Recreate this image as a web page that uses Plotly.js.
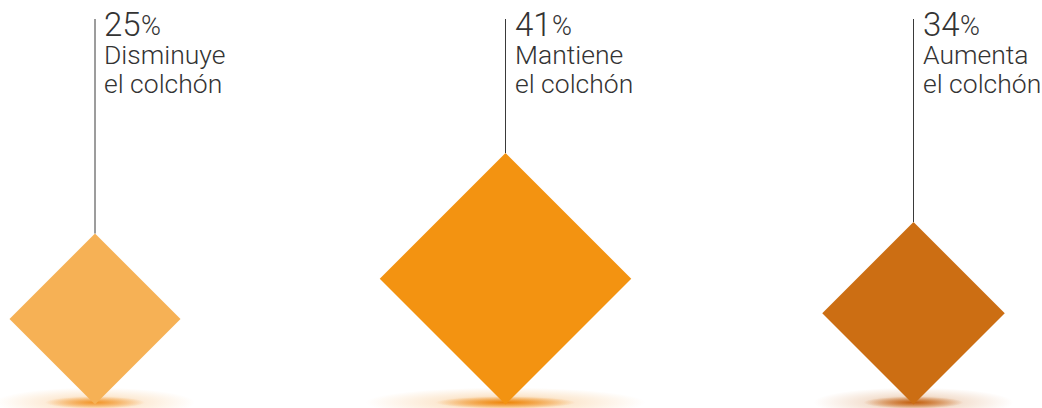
<!DOCTYPE html>
<html>
<head>
<meta charset="utf-8">
<script src="https://cdn.plot.ly/plotly-3.0.1.min.js"></script>
<style>
html,body{margin:0;padding:0;background:#fff;}
#chart{width:1042px;height:408px;}
</style>
</head>
<body>
<div id="chart"></div>
<script>
// ---- data ----
const categories = ['Disminuye', 'Mantiene', 'Aumenta'];
const subLabels = ['el colchón', 'el colchón', 'el colchón'];
const values = [25, 41, 34];

// ---- layout / style config (pixel-like axis units) ----
const centerX = [95, 505.5, 913.5];
const halfSize = [85.5, 125.75, 91.25];
const colors = ['#F6B155', '#F39311', '#CC6E13'];
const glowColors = ['#F2962A', '#EE860A', '#C4600E'];
const glowRx = [100, 140, 100];
const baseY = 404.5;
const lineTop = 19;
const textColor = '#333333';
const fontFamily = 'Roboto, "Open Sans", sans-serif';
const numSize = 33, pctSize = 27, labelSize = 26.5;

const traces = [];
const annotations = [];
const images = [];

for (let i = 0; i < values.length; i++) {
  const cx = centerX[i], h = halfSize[i];
  // diamond
  traces.push({
    type: 'scatter', mode: 'lines', fill: 'toself',
    x: [cx - h, cx, cx + h, cx, cx - h],
    y: [baseY - h, baseY - 2 * h, baseY - h, baseY, baseY - h],
    line: {width: 0, color: colors[i]},
    fillcolor: colors[i],
    hoverinfo: 'skip', showlegend: false
  });
  // leader line
  traces.push({
    type: 'scatter', mode: 'lines',
    x: [cx, cx], y: [lineTop, baseY - 2 * h],
    line: {width: 1, color: '#3a3a3a'},
    hoverinfo: 'skip', showlegend: false
  });
  const tx = cx + 8;
  const numStr = String(values[i]);
  annotations.push({
    x: tx, y: 24, xref: 'x', yref: 'y', xanchor: 'left', yanchor: 'middle',
    text: numStr,
    showarrow: false, borderpad: 0,
    font: {family: fontFamily, size: numSize, color: textColor, weight: 300}
  });
  annotations.push({
    x: tx, y: 24, xref: 'x', yref: 'y', xanchor: 'left', yanchor: 'middle',
    xshift: numStr.length * numSize * 0.565, yshift: -2,
    text: '%',
    showarrow: false, borderpad: 0,
    font: {family: fontFamily, size: pctSize, color: textColor, weight: 300}
  });
  annotations.push({
    x: tx, y: 54.5, xref: 'x', yref: 'y', xanchor: 'left', yanchor: 'middle',
    text: categories[i],
    showarrow: false, borderpad: 0,
    font: {family: fontFamily, size: labelSize, color: textColor, weight: 300}
  });
  annotations.push({
    x: tx, y: 83.5, xref: 'x', yref: 'y', xanchor: 'left', yanchor: 'middle',
    text: subLabels[i],
    showarrow: false, borderpad: 0,
    font: {family: fontFamily, size: labelSize, color: textColor, weight: 300}
  });
  // glow under diamond
  const rx = glowRx[i];
  const gc = glowColors[i];
  const svg = '<svg xmlns="http://www.w3.org/2000/svg" width="200" height="40" viewBox="0 0 200 40" preserveAspectRatio="none">' +
    '<defs>' +
    '<radialGradient id="g" cx="50%" cy="50%" r="50%">' +
    '<stop offset="0" stop-color="' + gc + '" stop-opacity="0.5"/>' +
    '<stop offset="0.5" stop-color="' + gc + '" stop-opacity="0.18"/>' +
    '<stop offset="1" stop-color="' + gc + '" stop-opacity="0"/>' +
    '</radialGradient>' +
    '<radialGradient id="c" cx="50%" cy="50%" r="50%">' +
    '<stop offset="0" stop-color="' + gc + '" stop-opacity="1"/>' +
    '<stop offset="0.4" stop-color="' + gc + '" stop-opacity="0.6"/>' +
    '<stop offset="1" stop-color="' + gc + '" stop-opacity="0"/>' +
    '</radialGradient></defs>' +
    '<ellipse cx="100" cy="20" rx="100" ry="20" fill="url(#g)"/>' +
    '<ellipse cx="100" cy="20" rx="50" ry="8" fill="url(#c)"/>' +
    '</svg>';
  images.push({
    source: 'data:image/svg+xml;charset=utf-8,' + encodeURIComponent(svg),
    xref: 'x', yref: 'y', x: cx - rx, y: baseY - 17, sizex: 2 * rx, sizey: 30,
    xanchor: 'left', yanchor: 'top', sizing: 'stretch', layer: 'below'
  });
}

const layout = {
  width: 1042, height: 408,
  margin: {l: 0, r: 0, t: 0, b: 0},
  paper_bgcolor: '#ffffff', plot_bgcolor: '#ffffff',
  xaxis: {range: [0, 1042], visible: false, fixedrange: true},
  yaxis: {range: [408, 0], visible: false, fixedrange: true},
  annotations: annotations,
  images: images,
  showlegend: false
};

Plotly.newPlot('chart', traces, layout, {displayModeBar: false, staticPlot: true});
</script>
</body>
</html>
